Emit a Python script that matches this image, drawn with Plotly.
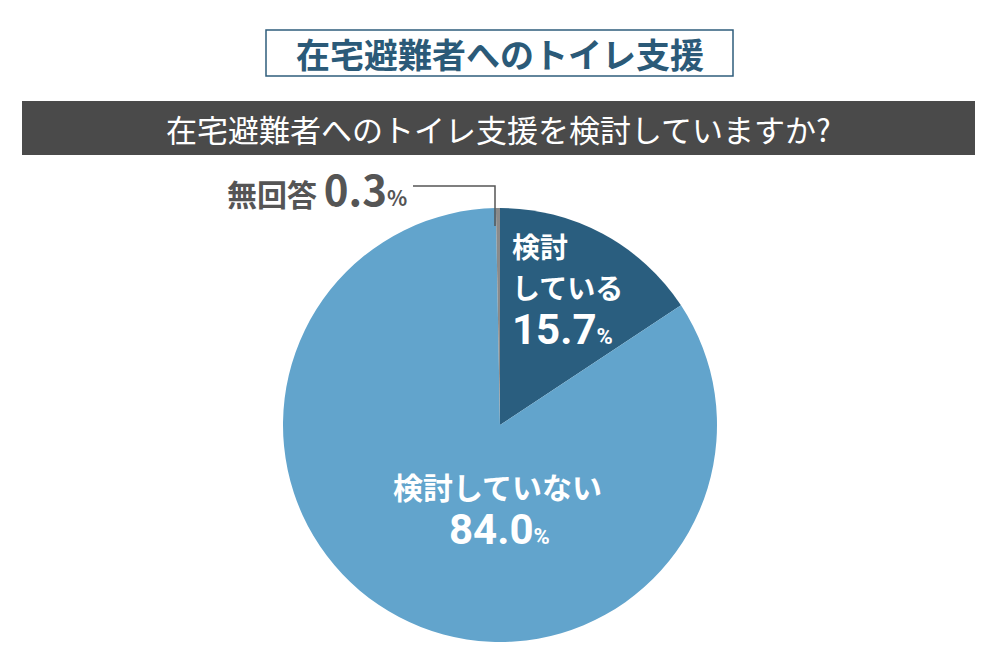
import plotly.graph_objects as go

# ---- data ----
categories = ["検討している", "検討していない", "無回答"]
values = [15.7, 84.0, 0.3]
colors = ["#2a5e7f", "#62a4cc", "#8a8a8a"]
title_text = "在宅避難者へのトイレ支援"
question_text = "在宅避難者へのトイレ支援を検討していますか?"

W, H = 1000, 667
def px(x): return x / W
def py(y): return 1 - y / H

CJK = "Noto Sans CJK JP"
NUM = "Roboto"

fig = go.Figure()
fig.add_trace(go.Pie(
    labels=categories, values=values, sort=False, direction="clockwise",
    rotation=0, marker=dict(colors=colors, line=dict(width=0)),
    textinfo="none", hoverinfo="skip", showlegend=False,
    domain=dict(x=[px(283), px(717)], y=[py(642), py(208)]),
))

shapes = [
    # title box
    dict(type="rect", xref="paper", yref="paper", x0=px(266), x1=px(733), y0=py(76), y1=py(30),
         line=dict(color="#2f5d7c", width=1.5), fillcolor="white", layer="below"),
    # question banner
    dict(type="rect", xref="paper", yref="paper", x0=px(22), x1=px(975), y0=py(155), y1=py(101),
         line=dict(width=0), fillcolor="#4a4a4a", layer="below"),
    # leader line for 無回答
    dict(type="path", xref="paper", yref="paper",
         path=f"M {px(413)},{py(186)} L {px(495)},{py(186)} L {px(495)},{py(226)}",
         line=dict(color="#555555", width=1.5)),
]

def pct(v, big, small):
    return f"<span style='font-size:{big}px'>{v}</span><span style='font-size:{small}px'>%</span>"

annotations = [
    dict(text=f"<b>{title_text}</b>", x=px(500), y=py(53), font=dict(family=CJK, size=34, color="#2b5a78")),
    dict(text=question_text, x=px(498), y=py(128), font=dict(family=CJK, size=31, color="white")),
    # 検討している (two lines)
    dict(text="<b>検討</b>", x=px(510), y=py(246), xanchor="left", font=dict(family=CJK, size=28, color="white")),
    dict(text="<b>している</b>", x=px(510), y=py(287), xanchor="left", font=dict(family=CJK, size=28, color="white")),
    dict(text="<b>" + pct(f"{values[0]:.1f}", 42, 22) + "</b>", x=px(510), y=py(329), xanchor="left",
         font=dict(family=NUM, color="white")),
    # 検討していない
    dict(text="<b>検討していない</b>", x=px(497), y=py(486), font=dict(family=CJK, size=30, color="white")),
    dict(text="<b>" + pct(f"{values[1]:.1f}", 42, 22) + "</b>", x=px(499), y=py(529),
         font=dict(family=NUM, color="white")),
    # 無回答
    dict(text="<b>無回答</b> <b>" + pct(f"{values[2]:.1f}", 42, 21) + "</b>", x=px(409), y=py(187), xanchor="right",
         font=dict(family=CJK, size=30, color="#555555")),
]
for a in annotations:
    a.setdefault("xref", "paper"); a.setdefault("yref", "paper")
    a.setdefault("showarrow", False)
    a.setdefault("xanchor", "center"); a.setdefault("yanchor", "middle")

fig.update_layout(
    width=W, height=H, margin=dict(l=0, r=0, t=0, b=0),
    paper_bgcolor="white", plot_bgcolor="white",
    shapes=shapes, annotations=annotations,
)
fig.write_html("out.html")
